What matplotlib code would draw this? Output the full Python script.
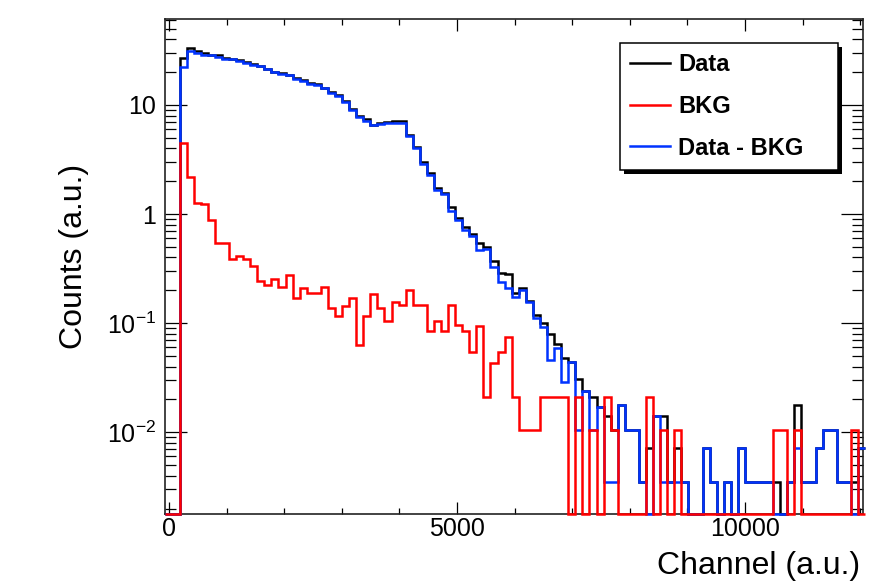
import numpy as np
import matplotlib
matplotlib.use("Agg")
import matplotlib.pyplot as plt
from matplotlib.lines import Line2D
from matplotlib.patches import Rectangle
from matplotlib.ticker import FixedLocator, MultipleLocator, FuncFormatter, NullFormatter

plt.rcParams['font.family'] = ['Liberation Sans', 'DejaVu Sans']
plt.rcParams['mathtext.fontset'] = 'custom'
plt.rcParams['mathtext.rm'] = 'Liberation Sans'
plt.rcParams['mathtext.it'] = 'Liberation Sans:italic'
plt.rcParams['mathtext.bf'] = 'Liberation Sans:bold'

# ---- histogram binning (channel units) ----
bin_low = -62.5
bin_width = 122.7

# ---- series values per bin ----
data = [0, 0, 26.7, 33.0, 31.4, 29.7, 29.0, 28.5, 27.0, 26.5,
        25.8, 24.8, 23.6, 23.0, 21.5, 20.1, 19.8, 18.8, 17.5, 17.0,
        15.8, 15.5, 14.4, 13.1, 12.4, 10.9, 9.2, 7.9, 7.4, 6.6,
        6.8, 7.0, 7.2, 7.2, 5.3, 4.1, 3.0, 2.4, 1.72, 1.57,
        1.17, 0.93, 0.765, 0.66, 0.54, 0.50, 0.37, 0.29, 0.285, 0.19,
        0.21, 0.16, 0.12, 0.10, 0.08, 0.065, 0.048, 0.044, 0.031, 0.024,
        0.021, 0.017, 0.0141, 0.0106, 0.0176, 0.0106, 0.0106, 0.0035, 0.0071, 0.0141,
        0.0141, 0.0035, 0.0071, 0.0035, 0, 0, 0.0071, 0.0035, 0, 0.0035,
        0, 0.0071, 0.0035, 0.0035, 0.0035, 0.0035, 0.0035, 0, 0.0035, 0.0176,
        0.0035, 0.0035, 0.0071, 0.0106, 0.0106, 0.0035, 0.0035, 0.0035, 0.0071]

bkg = [0, 0, 4.45, 2.2, 1.27, 1.23, 0.89, 0.546, 0.546, 0.385,
       0.41, 0.39, 0.336, 0.245, 0.222, 0.252, 0.215, 0.276, 0.17, 0.21,
       0.188, 0.188, 0.213, 0.139, 0.116, 0.145, 0.17, 0.063, 0.116, 0.187,
       0.137, 0.105, 0.157, 0.147, 0.2, 0.147, 0.147, 0.085, 0.105, 0.085,
       0.147, 0.096, 0.085, 0.054, 0.094, 0.021, 0.043, 0.054, 0.074, 0.021,
       0.0106, 0.0106, 0.0106, 0.021, 0.021, 0.021, 0.021, 0, 0.021, 0,
       0.0106, 0, 0.021, 0.0106, 0, 0, 0, 0, 0.021, 0,
       0.0106, 0, 0.0106, 0, 0, 0, 0, 0, 0, 0,
       0, 0, 0, 0, 0, 0, 0.0106, 0.0106, 0, 0.0106,
       0, 0, 0, 0, 0, 0, 0, 0.0106, 0]

diff = [0, 0, 22.4, 31.4, 29.7, 28.7, 28.5, 27.7, 26.5, 26.3,
        25.3, 24.4, 23.2, 22.7, 21.2, 20.0, 19.4, 18.7, 17.4, 16.7,
        15.5, 15.2, 14.2, 12.9, 12.2, 10.7, 9.0, 7.7, 7.2, 6.5,
        6.7, 6.9, 6.9, 6.9, 5.2, 4.0, 2.9, 2.3, 1.66, 1.52,
        1.07, 0.89, 0.72, 0.63, 0.47, 0.48, 0.33, 0.24, 0.21, 0.175,
        0.2, 0.155, 0.112, 0.093, 0.046, 0.059, 0.029, 0.044, 0.0106, 0.024,
        0.0106, 0.017, 0.0035, 0.0035, 0.0176, 0.0106, 0.0106, 0.0035, 0, 0.0141,
        0.0035, 0.0035, 0.0035, 0.0035, 0, 0, 0.0071, 0.0035, 0, 0.0035,
        0, 0.0071, 0.0035, 0.0035, 0.0035, 0.0035, 0, 0, 0.0035, 0.0071,
        0.0035, 0.0035, 0.0071, 0.0106, 0.0106, 0.0035, 0.0035, 0, 0.0071]

labels = ["Data", "BKG", "Data - BKG"]
colors = ["#000000", "#ff0000", "#0033ff"]

x_range = (-69, 12057)
y_range = (0.00177, 61)
x_major = [0, 5000, 10000]
y_major = [0.01, 0.1, 1, 10]
y_major_labels = {0.01: r"$10^{-2}$", 0.1: r"$10^{-1}$", 1: "1", 10: "10"}

# ---- figure ----
fig = plt.figure(figsize=(8.73, 5.86), dpi=100)
ax = fig.add_axes([0.18900, 0.12235, 0.80011, 0.84471])
ax.set_yscale('log')
ax.set_xlim(*x_range)
ax.set_ylim(*y_range)

nb = len(data)
edges = bin_low + bin_width * np.arange(nb + 1)
floor = y_range[0]

series = [data, diff, bkg]
series_colors = [colors[0], colors[2], colors[1]]
for vals, c in zip(series, series_colors):
    v = np.asarray(vals, dtype=float)
    v = np.where(v > 0, v, floor)
    ax.stairs(v, edges, baseline=None, color=c, lw=1.8, zorder=3, clip_on=False)

# ---- ticks ----
ax.xaxis.set_major_locator(FixedLocator(x_major))
ax.xaxis.set_minor_locator(MultipleLocator(1000))
ax.yaxis.set_major_locator(FixedLocator(y_major))
minors = [m * 10.0 ** e for e in range(-3, 2) for m in range(2, 10)]
ax.yaxis.set_minor_locator(FixedLocator(minors))
ax.yaxis.set_minor_formatter(NullFormatter())
ax.yaxis.set_major_formatter(FuncFormatter(
    lambda v, p: min(y_major_labels.items(), key=lambda kv: abs(np.log10(kv[0]) - np.log10(v)))[1]))
ax.xaxis.set_major_formatter(FuncFormatter(lambda v, p: "%d" % v))

ax.tick_params(which='both', direction='in', top=True, right=True, width=0.9, colors='black')
ax.tick_params(axis='x', which='major', length=8.6, labelsize=18, pad=2)
ax.tick_params(axis='x', which='minor', length=4.3)
ax.tick_params(axis='y', which='major', length=15.8, labelsize=18, pad=6.5)
ax.tick_params(axis='y', which='minor', length=7.9)
for s in ax.spines.values():
    s.set_linewidth(1.2)
    s.set_color('#222222')

ax.set_xlabel("Channel (a.u.)", fontsize=23, ha='right')
ax.xaxis.set_label_coords(0.995, -0.075)
ax.set_ylabel("Counts (a.u.)", fontsize=23)
ax.yaxis.set_label_coords(-0.109, 0.52)

# ---- legend ----
handles = [Line2D([], [], color=c, lw=1.8) for c in colors]
leg = ax.legend(handles, labels, loc='upper left',
                bbox_to_anchor=(620 / 873, (586 - 168) / 586, 218 / 873, 125 / 586),
                bbox_transform=fig.transFigure, mode='expand', borderaxespad=0,
                fancybox=False, framealpha=1, edgecolor='black',
                prop={'weight': 'bold', 'size': 17}, handlelength=1.7,
                handletextpad=0.34, borderpad=0.42, labelspacing=0.80)
leg.get_frame().set_linewidth(1.1)
leg.set_zorder(6)

fig.canvas.draw()
bb = leg.get_window_extent()
inv = ax.transAxes.inverted()
(x0, y0) = inv.transform((bb.x0 + 4, bb.y0 - 4))
(x1, y1) = inv.transform((bb.x1 + 4, bb.y1 - 4))
ax.add_patch(Rectangle((x0, y0), x1 - x0, y1 - y0, transform=ax.transAxes,
                       facecolor='black', edgecolor='none', zorder=5.9, clip_on=False))

fig.savefig("out.png", dpi=100)
